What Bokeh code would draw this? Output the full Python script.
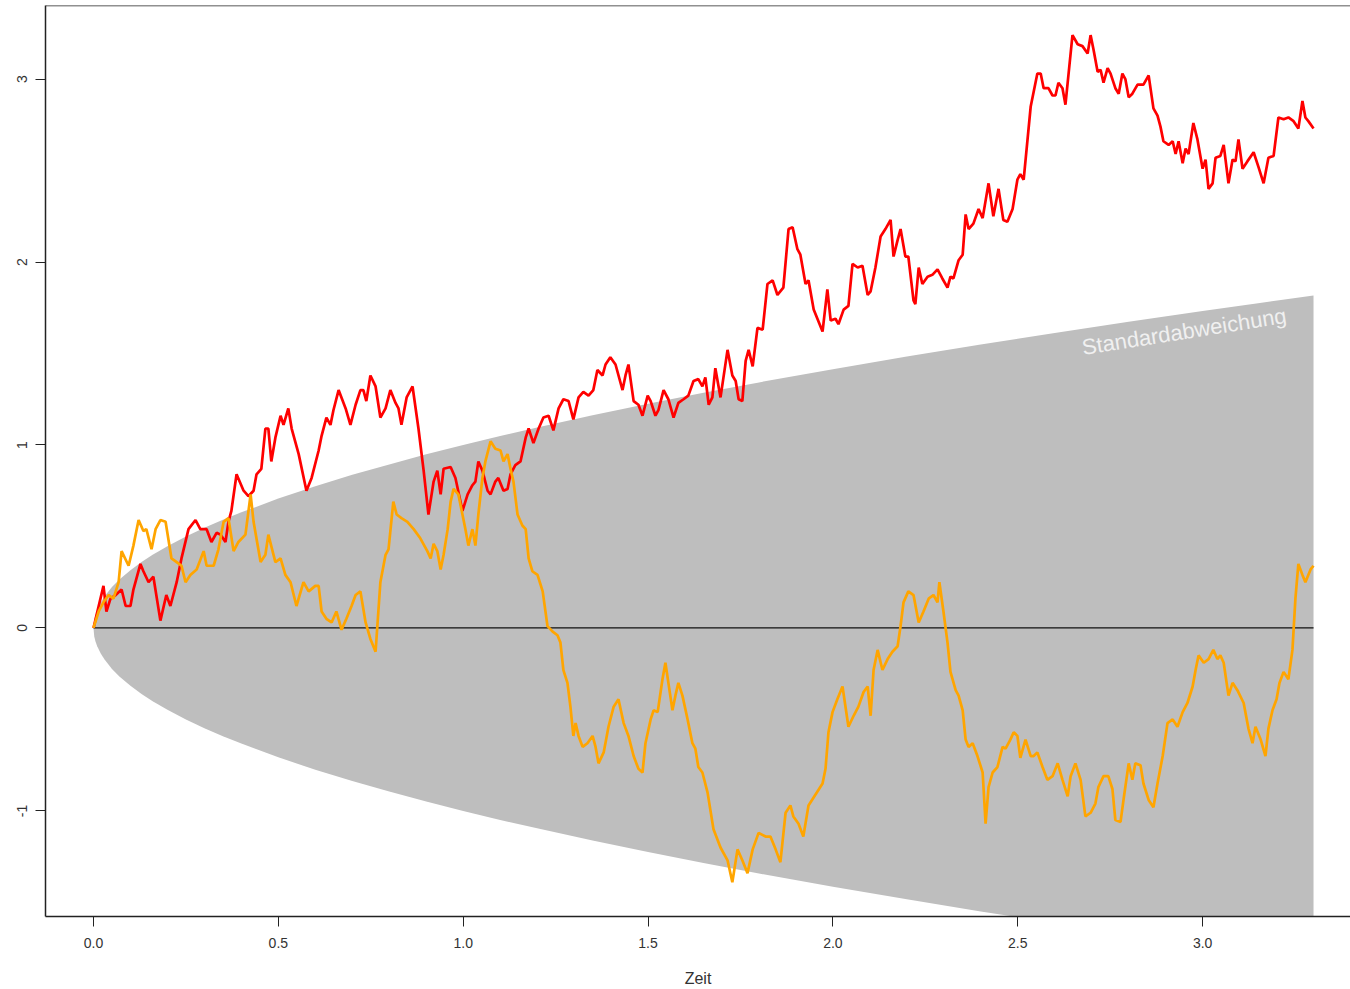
import math
from bokeh.plotting import figure
from bokeh.models import Range1d, FixedTicker, NumeralTickFormatter, Span
from bokeh.core.properties import value
from bokeh.embed import file_html
from bokeh.resources import INLINE

# ---------------- data ----------------
red_t = [0, 0.027, 0.035, 0.046, 0.060, 0.076, 0.087, 0.100, 0.108, 0.127, 0.135, 0.149, 0.162, 0.181,
         0.197, 0.208, 0.225, 0.238, 0.257, 0.276, 0.289, 0.306, 0.319, 0.333, 0.344, 0.357, 0.365,
         0.373, 0.387, 0.406, 0.419, 0.433, 0.441, 0.454, 0.465, 0.473, 0.481, 0.492, 0.506, 0.514,
         0.527, 0.536, 0.555, 0.576, 0.590, 0.609, 0.617, 0.630, 0.641, 0.649, 0.663, 0.682, 0.695,
         0.709, 0.722, 0.730, 0.738, 0.749, 0.763, 0.776, 0.790, 0.803, 0.817, 0.825, 0.833, 0.847,
         0.863, 0.879, 0.893, 0.906, 0.920, 0.930, 0.939, 0.947, 0.966, 0.979, 0.998, 1.012, 1.025,
         1.033, 1.041, 1.052, 1.066, 1.074, 1.087, 1.095, 1.109, 1.120, 1.128, 1.141, 1.155, 1.169,
         1.177, 1.190, 1.204, 1.217, 1.231, 1.244, 1.258, 1.271, 1.285, 1.298, 1.312, 1.325, 1.339,
         1.352, 1.363, 1.377, 1.385, 1.398, 1.412, 1.431, 1.439, 1.447, 1.461, 1.474, 1.485, 1.499,
         1.507, 1.520, 1.528, 1.542, 1.555, 1.569, 1.582, 1.596, 1.609, 1.623, 1.636, 1.647, 1.655,
         1.664, 1.674, 1.682, 1.696, 1.715, 1.728, 1.737, 1.745, 1.755, 1.764, 1.772, 1.783, 1.796,
         1.810, 1.823, 1.837, 1.850, 1.866, 1.880, 1.891, 1.904, 1.912, 1.926, 1.934, 1.948, 1.972,
         1.985, 1.994, 2.007, 2.015, 2.029, 2.042, 2.053, 2.067, 2.080, 2.094, 2.102, 2.115, 2.129,
         2.142, 2.156, 2.164, 2.175, 2.183, 2.196, 2.204, 2.218, 2.223, 2.232, 2.242, 2.256, 2.269,
         2.283, 2.296, 2.310, 2.318, 2.326, 2.340, 2.351, 2.359, 2.367, 2.380, 2.394, 2.405, 2.421,
         2.434, 2.448, 2.461, 2.472, 2.486, 2.499, 2.507, 2.516, 2.535, 2.553, 2.562, 2.570, 2.583,
         2.594, 2.602, 2.610, 2.621, 2.629, 2.648, 2.662, 2.675, 2.689, 2.697, 2.705, 2.716, 2.724,
         2.732, 2.743, 2.751, 2.764, 2.773, 2.783, 2.791, 2.800, 2.810, 2.824, 2.840, 2.854, 2.867,
         2.878, 2.886, 2.894, 2.908, 2.919, 2.927, 2.935, 2.946, 2.954, 2.962, 2.975, 2.986, 3.000,
         3.008, 3.016, 3.027, 3.035, 3.048, 3.057, 3.070, 3.081, 3.089, 3.097, 3.108, 3.121, 3.138,
         3.151, 3.165, 3.178, 3.192, 3.205, 3.219, 3.232, 3.246, 3.259, 3.270, 3.278, 3.286, 3.300]
red_v = [0, 0.23, 0.09, 0.16, 0.18, 0.21, 0.12, 0.12, 0.21, 0.35, 0.31, 0.25, 0.28, 0.04,
         0.18, 0.12, 0.25, 0.38, 0.54, 0.59, 0.54, 0.54, 0.47, 0.52, 0.51, 0.47, 0.58,
         0.64, 0.84, 0.75, 0.72, 0.75, 0.84, 0.87, 1.09, 1.09, 0.91, 1.04, 1.16, 1.11,
         1.20, 1.09, 0.95, 0.75, 0.82, 0.97, 1.05, 1.15, 1.11, 1.19, 1.30, 1.20, 1.11,
         1.22, 1.30, 1.30, 1.24, 1.38, 1.32, 1.15, 1.20, 1.30, 1.23, 1.20, 1.11, 1.26,
         1.32, 1.09, 0.86, 0.62, 0.80, 0.86, 0.73, 0.87, 0.88, 0.82, 0.64, 0.73, 0.78,
         0.80, 0.91, 0.86, 0.75, 0.73, 0.80, 0.82, 0.75, 0.76, 0.84, 0.89, 0.91, 1.04,
         1.09, 1.01, 1.09, 1.15, 1.16, 1.08, 1.20, 1.25, 1.24, 1.14, 1.26, 1.29, 1.27,
         1.30, 1.41, 1.38, 1.44, 1.48, 1.44, 1.30, 1.38, 1.44, 1.24, 1.22, 1.16, 1.27,
         1.24, 1.16, 1.19, 1.30, 1.25, 1.15, 1.23, 1.25, 1.27, 1.35, 1.36, 1.32, 1.37,
         1.22, 1.26, 1.42, 1.26, 1.52, 1.38, 1.35, 1.25, 1.24, 1.46, 1.52, 1.43, 1.64,
         1.63, 1.88, 1.90, 1.82, 1.86, 2.18, 2.19, 2.07, 2.04, 1.88, 1.90, 1.74, 1.62,
         1.85, 1.68, 1.69, 1.66, 1.74, 1.76, 1.99, 1.97, 1.98, 1.82, 1.84, 1.97, 2.14,
         2.18, 2.23, 2.03, 2.12, 2.18, 2.03, 2.03, 1.79, 1.77, 1.97, 1.88, 1.92, 1.93,
         1.96, 1.91, 1.86, 1.92, 1.91, 2.01, 2.04, 2.26, 2.18, 2.21, 2.29, 2.24, 2.43,
         2.25, 2.40, 2.23, 2.22, 2.29, 2.45, 2.48, 2.45, 2.85, 3.03, 3.03, 2.95, 2.95,
         2.91, 2.91, 2.98, 2.95, 2.86, 3.24, 3.19, 3.18, 3.14, 3.24, 3.16, 3.04, 3.05,
         2.98, 3.06, 3.03, 2.95, 2.92, 3.03, 3.00, 2.90, 2.92, 2.97, 2.97, 3.02, 2.84,
         2.80, 2.74, 2.66, 2.64, 2.66, 2.59, 2.66, 2.54, 2.62, 2.59, 2.76, 2.67, 2.51,
         2.56, 2.40, 2.43, 2.57, 2.58, 2.64, 2.43, 2.56, 2.55, 2.67, 2.51, 2.55, 2.60,
         2.52, 2.43, 2.57, 2.58, 2.79, 2.78, 2.79, 2.77, 2.73, 2.88, 2.79, 2.77, 2.73]

orange_t = [0, 0.014, 0.027, 0.041, 0.054, 0.068, 0.076, 0.095, 0.108, 0.122, 0.135, 0.143, 0.157,
            0.168, 0.181, 0.195, 0.211, 0.225, 0.238, 0.249, 0.262, 0.279, 0.298, 0.306, 0.325,
            0.338, 0.352, 0.365, 0.379, 0.392, 0.411, 0.425, 0.433, 0.452, 0.465, 0.473, 0.492,
            0.506, 0.519, 0.533, 0.549, 0.568, 0.582, 0.600, 0.609, 0.617, 0.630, 0.644, 0.657,
            0.671, 0.684, 0.698, 0.709, 0.722, 0.736, 0.749, 0.763, 0.776, 0.790, 0.798, 0.811,
            0.820, 0.833, 0.849, 0.866, 0.884, 0.903, 0.912, 0.920, 0.930, 0.939, 0.947, 0.958,
            0.966, 0.974, 0.987, 0.998, 1.006, 1.014, 1.025, 1.033, 1.041, 1.052, 1.060, 1.074,
            1.087, 1.101, 1.109, 1.120, 1.128, 1.136, 1.147, 1.160, 1.169, 1.177, 1.187, 1.201,
            1.215, 1.228, 1.242, 1.255, 1.263, 1.271, 1.282, 1.290, 1.298, 1.304, 1.312, 1.323,
            1.336, 1.350, 1.358, 1.366, 1.380, 1.393, 1.407, 1.420, 1.434, 1.447, 1.461, 1.474,
            1.485, 1.493, 1.507, 1.515, 1.526, 1.539, 1.547, 1.555, 1.566, 1.574, 1.582, 1.593,
            1.607, 1.620, 1.628, 1.636, 1.647, 1.661, 1.677, 1.696, 1.715, 1.728, 1.742, 1.755,
            1.769, 1.783, 1.799, 1.818, 1.831, 1.845, 1.858, 1.872, 1.885, 1.893, 1.907, 1.920,
            1.934, 1.953, 1.972, 1.980, 1.988, 1.999, 2.012, 2.026, 2.042, 2.056, 2.069, 2.083,
            2.094, 2.102, 2.110, 2.121, 2.134, 2.148, 2.161, 2.175, 2.183, 2.191, 2.204, 2.218,
            2.232, 2.245, 2.259, 2.272, 2.283, 2.288, 2.299, 2.310, 2.318, 2.332, 2.340, 2.351,
            2.359, 2.367, 2.378, 2.391, 2.405, 2.413, 2.421, 2.432, 2.445, 2.459, 2.467, 2.480,
            2.489, 2.499, 2.507, 2.521, 2.535, 2.543, 2.553, 2.567, 2.580, 2.594, 2.608, 2.621,
            2.635, 2.643, 2.656, 2.670, 2.683, 2.697, 2.710, 2.718, 2.732, 2.745, 2.756, 2.764,
            2.778, 2.786, 2.800, 2.810, 2.818, 2.832, 2.840, 2.854, 2.867, 2.878, 2.892, 2.905,
            2.919, 2.932, 2.946, 2.959, 2.973, 2.981, 2.989, 3.003, 3.016, 3.029, 3.040, 3.048,
            3.057, 3.070, 3.081, 3.094, 3.111, 3.124, 3.135, 3.143, 3.157, 3.170, 3.178, 3.189,
            3.200, 3.208, 3.219, 3.232, 3.243, 3.251, 3.259, 3.270, 3.278, 3.292, 3.300]
orange_v = [0, 0.09, 0.14, 0.18, 0.16, 0.25, 0.42, 0.34, 0.45, 0.59, 0.53, 0.54, 0.43,
            0.54, 0.59, 0.58, 0.38, 0.36, 0.34, 0.25, 0.29, 0.32, 0.42, 0.34, 0.34,
            0.43, 0.58, 0.60, 0.42, 0.47, 0.51, 0.73, 0.58, 0.36, 0.40, 0.51, 0.36,
            0.38, 0.29, 0.25, 0.12, 0.25, 0.20, 0.23, 0.23, 0.09, 0.05, 0.03, 0.09,
            -0.01, 0.05, 0.12, 0.18, 0.20, 0.03, -0.06, -0.13, 0.25, 0.40, 0.43, 0.69,
            0.62, 0.60, 0.58, 0.54, 0.49, 0.42, 0.38, 0.46, 0.42, 0.32, 0.40, 0.54,
            0.69, 0.76, 0.73, 0.62, 0.54, 0.45, 0.54, 0.45, 0.62, 0.82, 0.91, 1.02,
            0.98, 0.97, 0.91, 0.95, 0.87, 0.80, 0.62, 0.56, 0.54, 0.38, 0.31, 0.29,
            0.20, 0.01, -0.02, -0.04, -0.08, -0.23, -0.30, -0.43, -0.59, -0.52, -0.59, -0.65,
            -0.63, -0.59, -0.65, -0.74, -0.68, -0.54, -0.43, -0.39, -0.52, -0.59, -0.70, -0.77,
            -0.79, -0.63, -0.50, -0.45, -0.46, -0.28, -0.19, -0.30, -0.45, -0.37, -0.30, -0.37,
            -0.50, -0.63, -0.66, -0.76, -0.79, -0.90, -1.10, -1.20, -1.27, -1.39, -1.21, -1.27,
            -1.34, -1.21, -1.12, -1.14, -1.14, -1.21, -1.28, -1.01, -0.97, -1.03, -1.07, -1.14,
            -0.97, -0.91, -0.85, -0.77, -0.57, -0.46, -0.39, -0.32, -0.54, -0.48, -0.43, -0.35,
            -0.32, -0.48, -0.23, -0.12, -0.23, -0.17, -0.13, -0.10, 0.01, 0.14, 0.20, 0.18,
            0.03, 0.09, 0.16, 0.18, 0.14, 0.25, 0.09, -0.08, -0.24, -0.34, -0.37, -0.45,
            -0.61, -0.65, -0.63, -0.70, -0.79, -1.07, -0.87, -0.79, -0.76, -0.65, -0.66, -0.61,
            -0.57, -0.59, -0.71, -0.61, -0.70, -0.70, -0.68, -0.76, -0.83, -0.81, -0.74, -0.83,
            -0.92, -0.81, -0.74, -0.83, -1.03, -1.01, -0.96, -0.87, -0.81, -0.81, -0.88, -1.05,
            -1.06, -0.94, -0.74, -0.83, -0.74, -0.75, -0.85, -0.94, -0.98, -0.85, -0.70, -0.52,
            -0.50, -0.54, -0.46, -0.41, -0.32, -0.23, -0.15, -0.19, -0.17, -0.12, -0.17, -0.15,
            -0.19, -0.37, -0.30, -0.34, -0.41, -0.55, -0.63, -0.54, -0.61, -0.70, -0.55, -0.45,
            -0.39, -0.30, -0.24, -0.28, -0.12, 0.16, 0.35, 0.29, 0.25, 0.32, 0.34]

# standard deviation envelope
band_t = [0, 0.002, 0.005, 0.01, 0.02, 0.03, 0.05, 0.07, 0.1, 0.13, 0.16, 0.2, 0.25, 0.3,
          0.35, 0.4, 0.5, 0.6, 0.7, 0.8, 0.9, 1.0, 1.1, 1.2, 1.35, 1.5, 1.65, 1.8, 2.0,
          2.2, 2.4, 2.6, 2.8, 3.0, 3.15, 3.3]
band_sd = [0, 0.045, 0.071, 0.10, 0.141, 0.173, 0.224, 0.265, 0.316, 0.361, 0.40, 0.447, 0.50,
           0.548, 0.592, 0.632, 0.707, 0.775, 0.837, 0.894, 0.949, 1.0, 1.049, 1.095, 1.162,
           1.225, 1.285, 1.342, 1.414, 1.483, 1.549, 1.612, 1.673, 1.732, 1.775, 1.817]
band_lower = [-s for s in band_sd]

zero_t = [0, 3.3]
zero_v = [0, 0]

x_ticks = [0.0, 0.5, 1.0, 1.5, 2.0, 2.5, 3.0]
y_ticks = [-1, 0, 1, 2, 3]
y_tick_labels = {-1: "-1", 0: "0", 1: "1", 2: "2", 3: "3"}

label_text = ["Standardabweichung"]
label_t = [2.95]
label_v = [1.62]

X_START, X_END = -0.1298, 3.400
Y_START, Y_END = -1.577, 3.402

# ---------------- figure ----------------
p = figure(width=1350, height=989,
           x_range=Range1d(X_START, X_END), y_range=Range1d(Y_START, Y_END),
           output_backend="svg", toolbar_location=None,
           min_border_left=45, min_border_right=0, min_border_top=5, min_border_bottom=73)
p.background_fill_color = "white"
p.border_fill_color = "white"
p.outline_line_color = None
p.grid.visible = False

# grey band
p.varea(x=band_t, y1=band_lower, y2=band_sd, fill_color="#BEBEBE")

# zero line
p.line(x=zero_t, y=zero_v, line_color="#111111", line_width=1.2)

# paths
p.line(x=red_t, y=red_v, line_color="#FF0000", line_width=2.7)
p.line(x=orange_t, y=orange_v, line_color="#FFA500", line_width=2.7)

p.text(x=label_t, y=label_v, text=label_text, angle=0.157,
       text_color="#F0F0F0", text_font=value("Liberation Sans"), text_font_size="22px",
       text_align="center", text_baseline="middle")

# top border
p.add_layout(Span(location=Y_END, dimension="width", line_color="#222222", line_width=1.5))

# axes
for ax in (p.xaxis[0], p.yaxis[0]):
    ax.axis_line_color = "#222222"
    ax.axis_line_width = 1.5
    ax.major_tick_line_color = "#222222"
    ax.major_tick_out = 10
    ax.major_tick_in = 0
    ax.minor_tick_line_color = None
    ax.major_label_text_font = "Liberation Sans"
    ax.major_label_text_font_size = "14px"
    ax.major_label_text_color = "#333333"

p.xaxis.ticker = FixedTicker(ticks=x_ticks)
p.xaxis.formatter = NumeralTickFormatter(format="0.0")
p.xaxis.major_label_standoff = 11
p.xaxis.axis_label = "Zeit"
p.xaxis.axis_label_text_font = "Liberation Sans"
p.xaxis.axis_label_text_font_style = "normal"
p.xaxis.axis_label_text_font_size = "16px"
p.xaxis.axis_label_text_color = "#333333"
p.xaxis.axis_label_standoff = 19

p.yaxis.ticker = FixedTicker(ticks=y_ticks)
p.yaxis.major_label_overrides = y_tick_labels
p.yaxis.major_label_orientation = "parallel"
p.yaxis.major_label_standoff = 8

open("out.html", "w").write(file_html(p, INLINE))
